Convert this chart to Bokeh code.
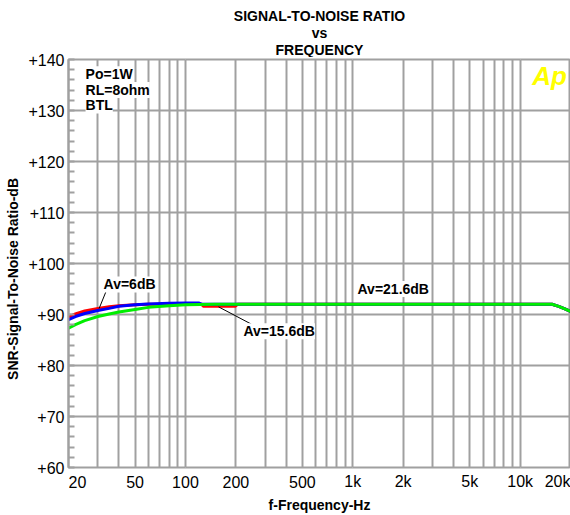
import math
from bokeh.plotting import figure
from bokeh.layouts import column, row
from bokeh.models import FixedTicker, Label, Range1d, Grid, ColumnDataSource
from bokeh.core.properties import value
from bokeh.embed import file_html
from bokeh.resources import INLINE

# ---------------- data ----------------
freq_av6 = [20, 22, 25, 30, 35, 40, 50, 60, 80, 100, 120, 126, 200, 500, 1000,
            2000, 5000, 10000, 15500, 17000, 18500, 20000]
snr_av6 = [89.0, 89.6, 90.2, 90.8, 91.2, 91.6, 91.9, 92.05, 92.2, 92.25, 92.25, 92.0, 92.0, 92.0, 92.0,
           92.0, 92.0, 92.0, 92.0, 91.6, 91.1, 90.6]

freq_av15_6 = [20, 22, 25, 30, 35, 40, 50, 60, 80, 100, 125, 128, 198, 205, 500, 1000,
               2000, 5000, 10000, 15500, 17000, 18500, 20000]
snr_av15_6 = [89.5, 90.1, 90.7, 91.2, 91.5, 91.7, 91.9, 92.0, 92.0, 92.0, 92.0, 91.6, 91.6, 92.0, 92.0, 92.0,
              92.0, 92.0, 92.0, 92.0, 91.6, 91.1, 90.6]

freq_av21_6 = [20, 22, 25, 30, 35, 40, 50, 60, 80, 100, 150, 200, 500, 1000,
               2000, 5000, 10000, 15500, 17000, 18500, 20000]
snr_av21_6 = [87.3, 88.0, 88.8, 89.6, 90.1, 90.5, 91.0, 91.4, 91.7, 91.9, 92.0, 92.0, 92.0, 92.0,
              92.0, 92.0, 92.0, 92.0, 91.6, 91.1, 90.6]

x_tick_values = [20, 50, 100, 200, 500, 1000, 2000, 5000, 10000, 20000]
x_tick_labels = ["20", "50", "100", "200", "500", "1k", "2k", "5k", "10k", "20k"]
x_grid_values = [30, 40, 50, 60, 70, 80, 90, 100, 200, 300, 400, 500, 600, 700, 800, 900,
                 1000, 2000, 3000, 4000, 5000, 6000, 7000, 8000, 9000, 10000]
y_tick_values = [60, 70, 80, 90, 100, 110, 120, 130, 140]
y_tick_labels = ["+60", "+70", "+80", "+90", "+100", "+110", "+120", "+130", "+140"]
y_minor_values = list(range(60, 141, 2))

title_lines = ["SIGNAL-TO-NOISE RATIO", "vs", "FREQUENCY"]
x_title = "f-Frequency-Hz"
y_title = "SNR-Signal-To-Noise Ratio-dB"

# ---------------- layout constants ----------------
FONT = "Liberation Sans"
GRID = "#a0a0a0"
H = 515
TITLE_W = 24          # strip holding the rotated y title
LABEL_W = 42          # strip holding the y tick labels
RIGHT_W = 570 - TITLE_W - LABEL_W
FRAME_TOP = 59
FRAME_BOTTOM = 467
TOP_H = FRAME_TOP - 2
MAIN_H = FRAME_BOTTOM - FRAME_TOP + 4
BOT_H = H - TOP_H - MAIN_H

x_range = Range1d(20, 20000)
y_range = Range1d(60, 140)
x_mid = (x_range.start * x_range.end) ** 0.5   # geometric centre of the log axis


def bare(width, height, xr, yr, xlog=False):
    f = figure(width=width, height=height, x_axis_type="log" if xlog else "linear",
               x_axis_location=None, y_axis_location=None, x_range=xr, y_range=yr,
               output_backend="svg", toolbar_location=None)
    f.min_border_left = 0
    f.min_border_right = 0
    f.min_border_top = 0
    f.min_border_bottom = 0
    f.outline_line_color = None
    f.background_fill_color = "white"
    f.border_fill_color = "white"
    f.grid.visible = False
    return f


# ---------------- rotated y-axis title ----------------
ytitle = bare(TITLE_W, H, Range1d(0, TITLE_W), Range1d(H, 0))
ytitle.text(x=[12], y=[277], text=[y_title], angle=math.pi / 2,
            text_font=value(FONT), text_font_size="14px", text_font_style="bold",
            text_align="center", text_baseline="middle", text_color="black")

# ---------------- y tick labels ----------------
ylab = figure(width=LABEL_W, height=H, x_axis_location=None, y_axis_location="left",
              x_range=Range1d(0, 1), y_range=y_range,
              output_backend="svg", toolbar_location=None)
ylab.min_border_left = LABEL_W - 2
ylab.min_border_right = 0
ylab.min_border_top = FRAME_TOP
ylab.min_border_bottom = H - FRAME_BOTTOM
ylab.outline_line_color = None
ylab.grid.visible = False
ylab.background_fill_color = "white"
ylab.border_fill_color = "white"
yt_major = FixedTicker(ticks=y_tick_values, minor_ticks=[])
la = ylab.yaxis[0]
la.ticker = yt_major
la.major_label_overrides = {v: s for v, s in zip(y_tick_values, y_tick_labels)}
la.major_label_text_font = FONT
la.major_label_text_font_size = "16px"
la.major_label_text_color = "black"
la.major_label_standoff = 0
la.axis_line_color = None
la.major_tick_line_color = None
la.minor_tick_line_color = None
la.major_tick_in = 0
la.major_tick_out = 0

# ---------------- title strip ----------------
top = bare(RIGHT_W, TOP_H, x_range, Range1d(TOP_H, 0), xlog=True)
top.min_border_left = 2
top.text(x=[x_mid] * 3, y=[15, 32, 49], text=title_lines,
         text_font=value(FONT), text_font_size="14px", text_font_style="bold",
         text_align="center", text_baseline="middle", text_color="black")

# ---------------- main plot ----------------
p = figure(width=RIGHT_W, height=MAIN_H, x_axis_type="log", x_axis_location=None,
           y_axis_location="left", x_range=x_range, y_range=y_range,
           output_backend="svg", toolbar_location=None)
p.min_border_left = 2
p.min_border_right = 0
p.min_border_top = 2
p.min_border_bottom = 2
p.background_fill_color = "white"
p.border_fill_color = "white"
p.outline_line_color = GRID
p.outline_line_width = 2

yt = FixedTicker(ticks=y_tick_values, minor_ticks=y_minor_values)
ax = p.yaxis[0]
ax.ticker = yt
ax.major_label_overrides = {v: "" for v in y_tick_values}
ax.major_label_text_font_size = "0px"
ax.major_label_standoff = 0
ax.axis_line_color = GRID
ax.axis_line_width = 2
ax.major_tick_in = 0
ax.major_tick_out = 0
ax.minor_tick_in = 6
ax.minor_tick_out = 0
ax.minor_tick_line_color = GRID
ax.minor_tick_line_width = 2

p.ygrid.ticker = yt
p.ygrid.grid_line_color = GRID
p.ygrid.grid_line_width = 2

p.add_layout(Grid(dimension=0, ticker=FixedTicker(ticks=x_grid_values),
                  grid_line_color=GRID, grid_line_width=2))

p.line(freq_av15_6, snr_av15_6, color="#ff0000", line_width=3)
p.line(freq_av6, snr_av6, color="#0000ff", line_width=3)
p.line(freq_av21_6, snr_av21_6, color="#00ee00", line_width=3)

# pointer lines of the curve labels
p.segment(x0=[33.7, 157.6], y0=[94.7, 91.5], x1=[30.5, 248.0], y1=[91.2, 88.1],
          color="black", line_width=1)


def lab(x, y, text, size="14px", style="bold", align="left", baseline="middle",
        color="black", bg=None):
    l = Label(x=x, y=y, text=text, text_font=FONT, text_font_size=size,
              text_font_style=style, text_align=align, text_baseline=baseline,
              text_color=color)
    if bg is not None:
        l.background_fill_color = bg
    p.add_layout(l)


lab(25.3, 137.1, "Po=1W", bg="white")
lab(25.3, 134.0, "RL=8ohm", bg="white")
lab(25.3, 131.0, "BTL", bg="white")
lab(32.4, 95.9, "Av=6dB", bg="white")
lab(222, 86.7, "Av=15.6dB", bg="white")
lab(1067, 95.0, "Av=21.6dB", bg="white")
lab(11800, 139.8, "Ap", size="26px", style="bold italic", baseline="top", color="#ffff00")

# ---------------- bottom strip: x tick labels and x title ----------------
bot = bare(RIGHT_W, BOT_H, x_range, Range1d(BOT_H, 0), xlog=True)
bot.min_border_left = 2
aligns = ["left"] + ["center"] * (len(x_tick_values) - 2) + ["right"]
src = ColumnDataSource(dict(x=x_tick_values, y=[12] * len(x_tick_values),
                            t=x_tick_labels, a=aligns))
bot.text(x="x", y="y", text="t", text_align="a", source=src,
         text_font=value(FONT), text_font_size="16px", text_baseline="middle",
         text_color="black")
bot.text(x=[x_mid], y=[35], text=[x_title], text_font=value(FONT),
         text_font_size="14px", text_font_style="bold", text_align="center",
         text_baseline="middle", text_color="black")

layout = row(ytitle, ylab, column(top, p, bot, spacing=0), spacing=0)
open("out.html", "w").write(file_html(layout, INLINE))
